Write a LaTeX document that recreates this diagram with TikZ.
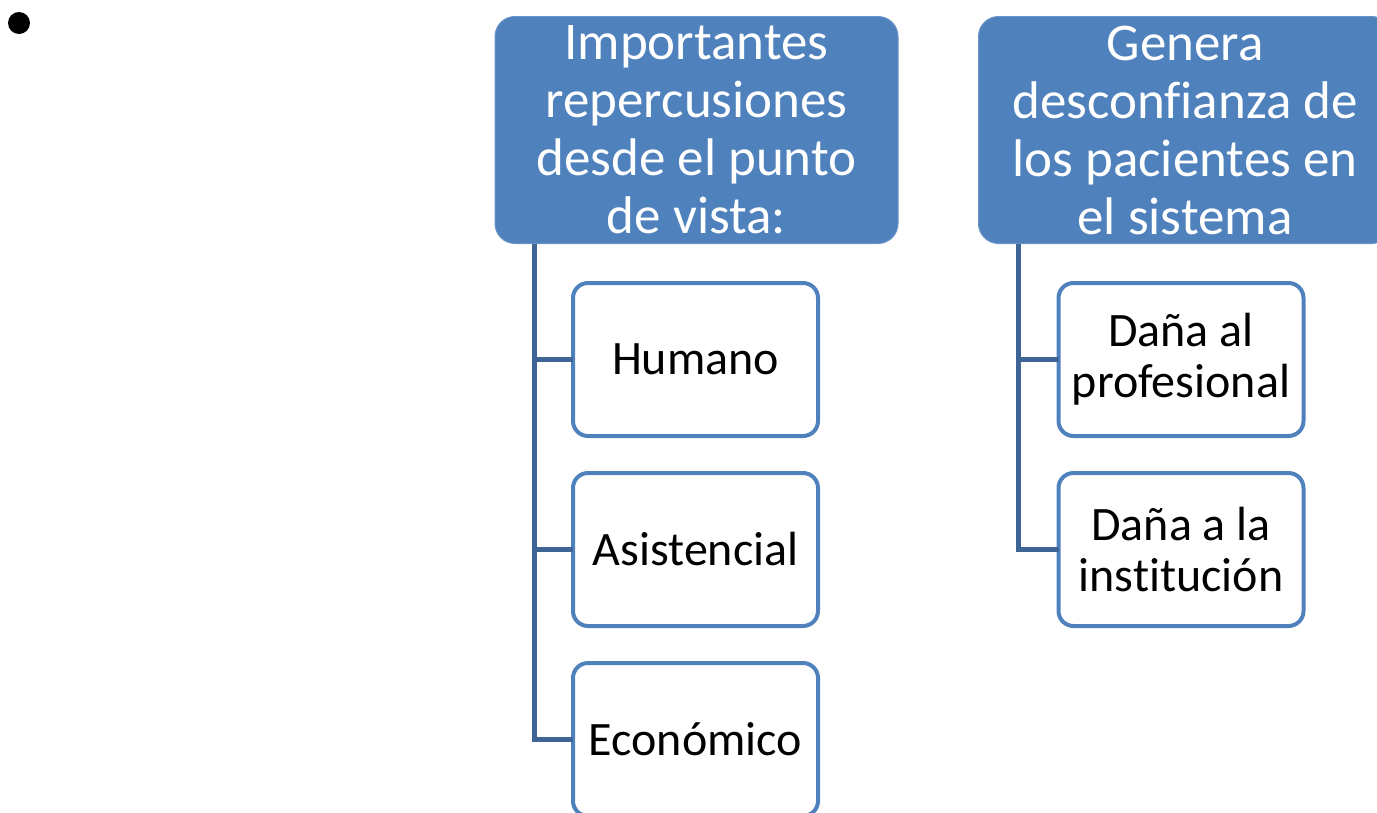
\documentclass[tikz,border=0pt]{standalone}
\usepackage{fontspec}
\setmainfont[Ligatures=NoCommon]{Carlito}
\definecolor{hdrblue}{RGB}{79,129,189}
\definecolor{lineblue}{RGB}{62,101,150}
\tikzset{
  header/.style={rectangle, rounded corners=20pt, fill=hdrblue, draw=hdrblue!85!white, line width=1pt,
    minimum width=403pt, minimum height=227pt, inner sep=0pt, outer sep=0pt,
    text=white, align=center, font=\fontsize{53}{58}\selectfont},
  child/.style={rectangle, rounded corners=15pt, fill=white, draw=hdrblue, line width=4pt,
    minimum width=245pt, minimum height=153pt, inner sep=0pt, outer sep=0pt,
    text=black, align=center, font=\fontsize{48}{51}\selectfont},
  conn/.style={draw=lineblue, line width=5pt},
}
\begin{document}
\begin{tikzpicture}[x=1pt,y=-1pt]
\useasboundingbox (0,0) rectangle (1377,812);
\clip (0,0) rectangle (1377,812);
\node[circle, fill=black, minimum size=22pt, inner sep=0pt] (bullet) at (19,23) {};
\node[header] (h1) at (696.5,130) {Importantes\\repercusiones\\desde el punto\\de vista:};
\node[header, minimum width=413pt] (h2) at (1185,130) {Genera\\desconfianza de\\los pacientes en\\el sistema};
\node[child] (hum) at (695.5,359.5) {Humano};
\node[child] (asi) at (695.5,549.5) {Asistencial};
\node[child] (eco) at (695.5,739.5) {Económico};
\node[child] (prof) at (1181,359.5) {Daña al\\profesional};
\node[child] (inst) at (1181,549.5) {Daña a la\\institución};
\coordinate (t1) at (534,244);
\coordinate (t2) at (1018,244);
\draw[conn] (t1) |- (hum.west);
\draw[conn] (t1) |- (asi.west);
\draw[conn] (t1) |- (eco.west);
\draw[conn] (t2) |- (prof.west);
\draw[conn] (t2) |- (inst.west);
\end{tikzpicture}
\end{document}
